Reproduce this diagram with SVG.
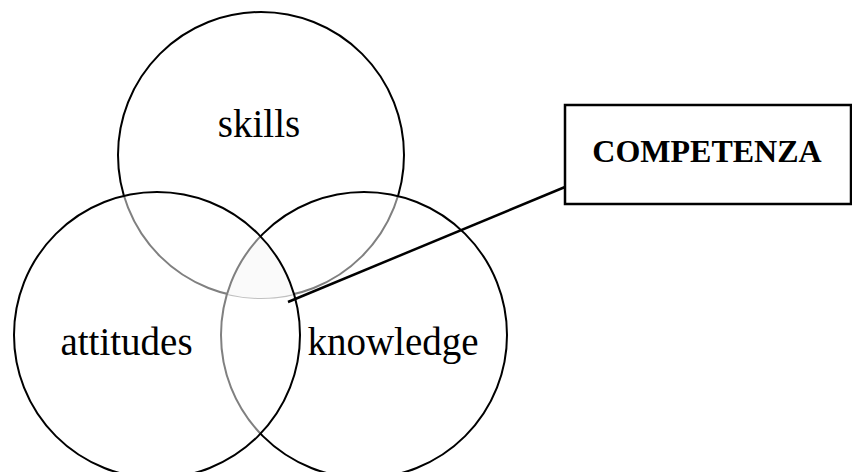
<svg xmlns="http://www.w3.org/2000/svg" width="852" height="472" viewBox="0 0 852 472">
<style>
.circ{fill:#fff;fill-opacity:0.5;stroke:#000;stroke-width:2}
.lbl{font-family:"Liberation Serif","Times New Roman",serif;font-size:39px;fill:#000;text-anchor:middle}
.box{fill:#fff;stroke:#000;stroke-width:2.5}
.title{font-family:"Liberation Serif","Times New Roman",serif;font-size:32px;font-weight:bold;fill:#000;text-anchor:middle}
.conn{stroke:#000;stroke-width:2.5;fill:none}
</style>
<rect width="852" height="472" fill="#fff"/>
<g id="skills">
<circle class="circ" cx="261" cy="155" r="143"/>
</g>
<path id="core" d="M260.5 236.3 A143 143 0 0 1 294 294.1 A143 143 0 0 1 227 293.9 A143 143 0 0 1 260.5 236.3 Z" fill="#e8e8e8"/>
<g id="knowledge">
<circle class="circ" cx="364" cy="335" r="143"/>
</g>
<g id="attitudes">
<circle class="circ" cx="157" cy="335" r="143"/>
</g>
<g id="labels">
<text class="lbl" x="259" y="137">skills</text>
<text class="lbl" x="126.5" y="355">attitudes</text>
<text class="lbl" x="393" y="355">knowledge</text>
</g>
<g id="competenza">
<rect class="box" x="565" y="105" width="286" height="99"/>
<text class="title" x="707" y="162">COMPETENZA</text>
</g>
<g id="connectors">
<line class="conn" x1="288" y1="302" x2="565" y2="187"/>
</g>
</svg>
